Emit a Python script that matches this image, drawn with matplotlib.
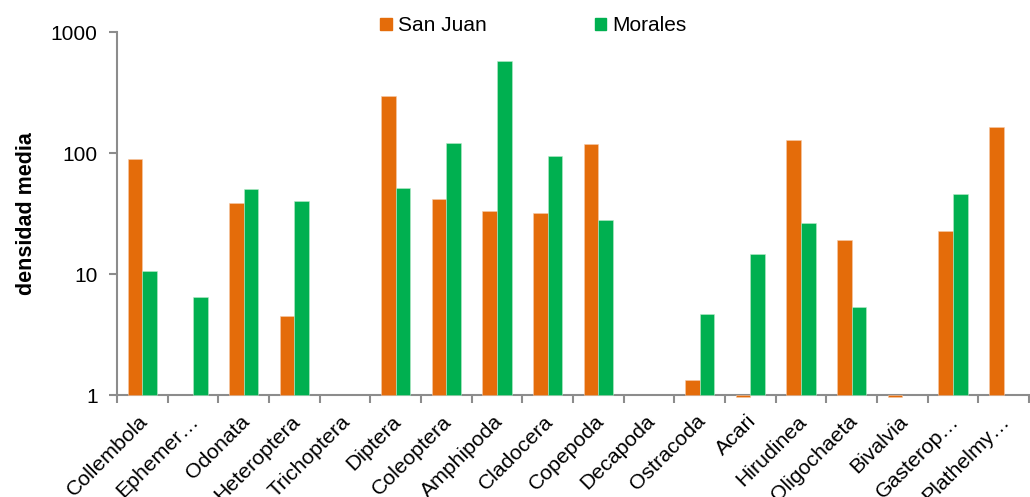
import numpy as np
import matplotlib.pyplot as plt
import matplotlib.transforms as mtransforms
from matplotlib.patches import Patch
from matplotlib.ticker import FixedLocator, NullLocator

plt.rcParams['font.family'] = ['Liberation Sans', 'DejaVu Sans']

taxa = ['Collembola', 'Ephemer…', 'Odonata', 'Heteroptera', 'Trichoptera',
        'Diptera', 'Coleoptera', 'Amphipoda', 'Cladocera', 'Copepoda',
        'Decapoda', 'Ostracoda', 'Acari', 'Hirudinea', 'Oligochaeta',
        'Bivalvia', 'Gasterop…', 'Plathelmy…']
# nan = no value
san_juan = [89, np.nan, 38.6, 4.5, np.nan, 297, 41.7, 33, 32, 119,
            np.nan, 1.33, 0.96, 128, 19, 0.96, 22.7, 164]
morales = [10.6, 6.5, 50, 40, np.nan, 51, 121, 575, 94, 28,
           np.nan, 4.67, 14.6, 26.4, 5.3, np.nan, 45.8, np.nan]

c_sj = '#E46C0A'
c_mo = '#00B050'
axis_col = '#8C8C8C'

fig = plt.figure(figsize=(10.30, 4.97), dpi=100)
ax = fig.add_axes([0.1136, 0.2052, 0.8854, 0.7304])

x = np.arange(len(taxa))
w = 0.29
sj = np.array(san_juan)
mo = np.array(morales)
# bars grow from the log base at 1 (Excel style), so values < 1 hang below
ax.bar(x - w / 2, sj - 1, w, bottom=1, color=c_sj, edgecolor='#F6C9A8',
       linewidth=0.4, clip_on=False, zorder=1)
ax.bar(x + w / 2, mo - 1, w, bottom=1, color=c_mo, edgecolor='#B8EAC9',
       linewidth=0.4, clip_on=False, zorder=1)

ax.set_yscale('log')
ax.set_ylim(1, 1000)
ax.set_xlim(-0.5, len(taxa) - 0.5)
ax.yaxis.set_major_locator(FixedLocator([1, 10, 100, 1000]))
ax.yaxis.set_minor_locator(NullLocator())
ax.set_yticklabels(['1', '10', '100', '1000'], fontsize=15)

ax.set_xticks(np.arange(len(taxa) + 1) - 0.5)
ax.set_xticklabels([])
ax.set_xticks(x, minor=True)
ax.set_xticklabels(taxa, minor=True, rotation=45, ha='right', va='top',
                   rotation_mode='anchor', fontsize=15.3)
ax.tick_params(axis='x', which='minor', length=0, pad=12)
ax.tick_params(axis='x', which='major', length=6, width=1.5, color=axis_col, direction='out')
ax.tick_params(axis='y', length=6, width=1.5, color=axis_col, direction='out', pad=8)

# nudge the slanted labels a little to the left
shift = mtransforms.ScaledTranslation(-4 / 100, 0, fig.dpi_scale_trans)
for lbl in ax.get_xticklabels(minor=True):
    lbl.set_transform(lbl.get_transform() + shift)

for s in ['top', 'right']:
    ax.spines[s].set_visible(False)
for s in ['left', 'bottom']:
    ax.spines[s].set_color(axis_col)
    ax.spines[s].set_linewidth(1.5)
    ax.spines[s].set_zorder(0.5)

ax.set_ylabel('densidad media', fontsize=15.5, fontweight='bold', labelpad=10)

handles = [Patch(color=c_sj, label='San Juan'), Patch(color=c_mo, label='Morales')]
fig.legend(handles=handles, loc='center left', bbox_to_anchor=(0.361, 0.948),
           ncol=2, frameon=False, fontsize=15, handlelength=0.55, handleheight=0.55,
           handletextpad=0.3, columnspacing=5.2, borderaxespad=0)

fig.savefig('out.png', dpi=100)
